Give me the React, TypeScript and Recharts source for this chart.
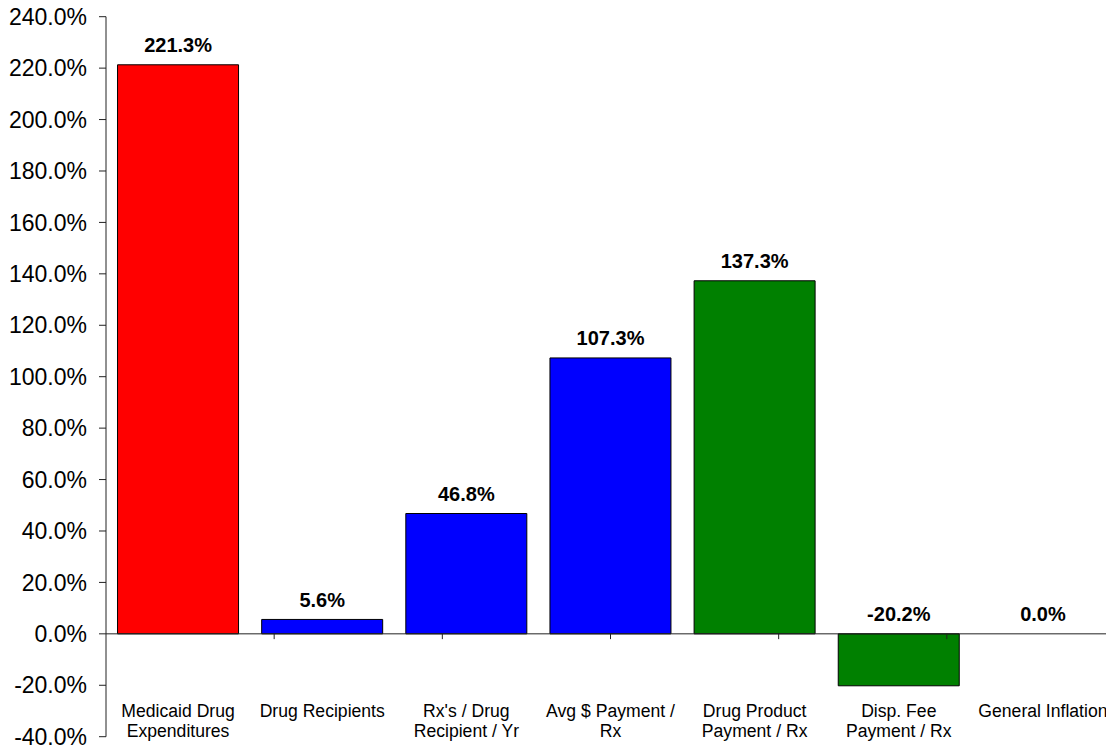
import React from "react";
import { ComposedChart, Bar, Line, XAxis, YAxis, Cell, LabelList, ReferenceLine } from "recharts";

const categories = [
  "Medicaid Drug\nExpenditures",
  "Drug Recipients",
  "Rx's / Drug\nRecipient / Yr",
  "Avg $ Payment /\nRx",
  "Drug Product\nPayment / Rx",
  "Disp. Fee\nPayment / Rx",
  "General Inflation",
];
const values = [221.3, 5.6, 46.8, 107.3, 137.3, -20.2, 0.0];
const yTicks = [-40, -20, 0, 20, 40, 60, 80, 100, 120, 140, 160, 180, 200, 220, 240];
const boundaries = [1, 2, 3, 4, 5, 6, 7];

const BAR_COLORS = ["#FF0000", "#0000FF", "#0000FF", "#0000FF", "#008000", "#008000", "#008000"];
const FONT = "Arial, 'Liberation Sans', sans-serif";

const data = categories.map((c, i) => ({
  name: c,
  value: values[i],
  labelPos: Math.max(values[i], 0),
}));

function CategoryTick(props: any) {
  const { x, y, payload } = props;
  const lines = String(payload.value).split("\n");
  return (
    <g>
      {lines.map((l: string, i: number) => (
        <text
          key={i}
          x={x}
          y={y - 20 + i * 20}
          textAnchor="middle"
          fontSize={17.6}
          fontFamily={FONT}
          fill="#000"
        >
          {l}
        </text>
      ))}
    </g>
  );
}

function ValueLabel(props: any) {
  const { x, y, value } = props;
  return (
    <text
      x={Number(x)}
      y={Number(y) - 12.5}
      textAnchor="middle"
      fontSize={20}
      fontWeight="bold"
      fontFamily={FONT}
      fill="#000"
    >
      {Number(value).toFixed(1) + "%"}
    </text>
  );
}

export default function App() {
  return (
    <div
      style={{
        position: "absolute",
        left: 0,
        top: 0,
        width: 1106,
        height: 748,
        overflow: "hidden",
        background: "#fff",
      }}
    >
      <ComposedChart
        width={1140}
        height={760}
        data={data}
        margin={{ top: 16.7, right: 25, left: 0, bottom: 0 }}
        barCategoryGap="8%"
      >
        <XAxis
          dataKey="name"
          height={23.3}
          axisLine={false}
          tickLine={false}
          tickSize={0}
          tickMargin={0}
          interval={0}
          tick={<CategoryTick />}
        />
        <XAxis xAxisId="num" type="number" domain={[0, 7]} hide allowDataOverflow />
        <YAxis
          width={106}
          domain={[-40, 240]}
          ticks={yTicks}
          interval={0}
          allowDataOverflow
          tickSize={7}
          tickMargin={12}
          axisLine={{ stroke: "#222", strokeWidth: 1 }}
          tickLine={{ stroke: "#222", strokeWidth: 1 }}
          tick={{ fontSize: 23, fontFamily: FONT, fill: "#000" }}
          tickFormatter={(v: number) => v.toFixed(1) + "%"}
        />
        <Bar dataKey="value" stroke="#000" strokeWidth={1} isAnimationActive={false}>
          {data.map((d, i) => (
            <Cell key={d.name} fill={BAR_COLORS[i]} />
          ))}
        </Bar>
        <ReferenceLine y={0} stroke="#222" strokeWidth={1} />
        {boundaries.map((b) => (
          <ReferenceLine
            key={b}
            xAxisId="num"
            segment={[
              { x: b, y: 0 },
              { x: b, y: -2.06 },
            ]}
            stroke="#222"
            strokeWidth={1}
          />
        ))}
        <Line
          dataKey="labelPos"
          stroke="none"
          dot={false}
          activeDot={false}
          legendType="none"
          isAnimationActive={false}
        >
          <LabelList dataKey="value" content={<ValueLabel />} />
        </Line>
      </ComposedChart>
    </div>
  );
}
